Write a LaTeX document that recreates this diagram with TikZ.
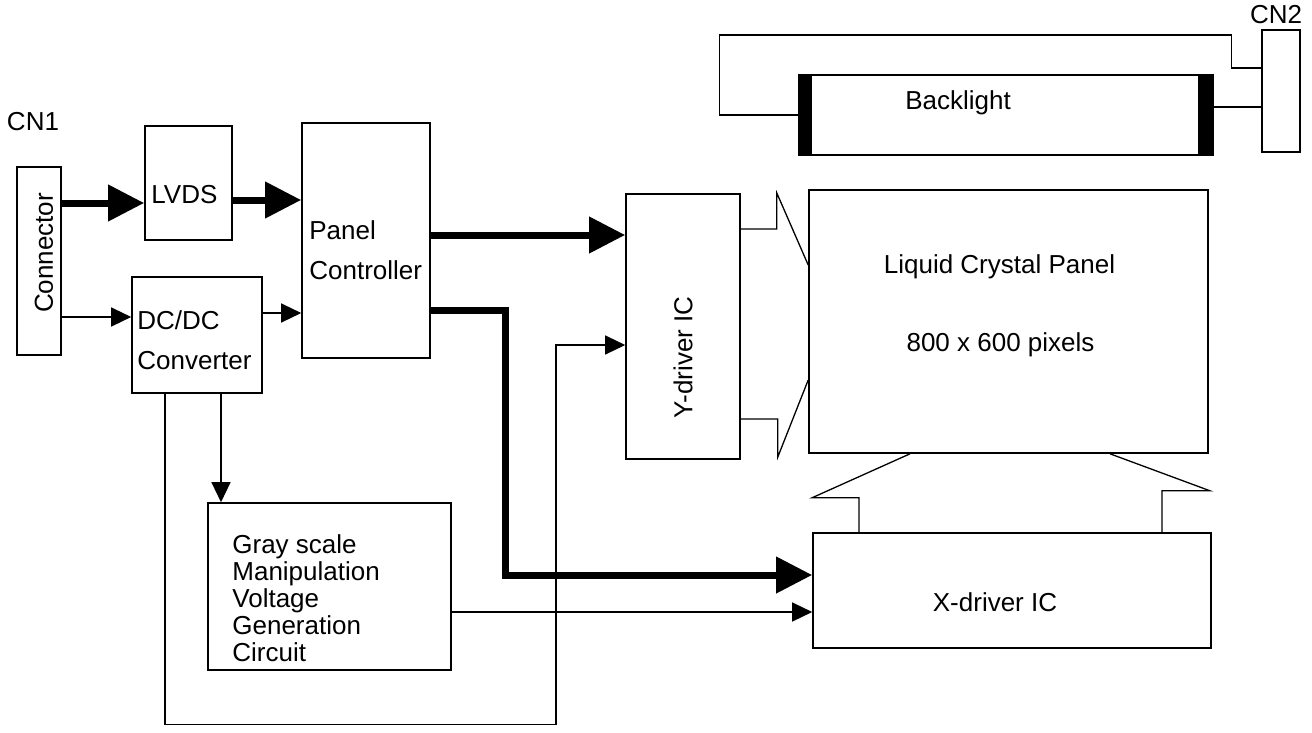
\documentclass[tikz,border=0pt]{standalone}
\usepackage{fontspec}
\setmainfont{Liberation Sans}
\usepackage{graphicx}
\usetikzlibrary{arrows.meta}

\tikzset{
  blk/.style={draw, line width=1.6pt, inner sep=0pt},
  txt/.style={inner sep=0pt, align=left, font=\fontsize{26}{40}\selectfont},
  thn/.style={line width=1.3pt, -{Triangle[length=20pt,width=19pt]}},
  thk/.style={line width=7pt, -{Triangle[length=36pt,width=35pt]}},
  wire/.style={line width=1.3pt},
}

\begin{document}
\begin{tikzpicture}[x=1pt, y=-1pt]
	\useasboundingbox (0,0) rectangle (1312,733);
	% blocks
	\node[blk, minimum width=44pt, minimum height=188pt] (cnone) at (39,261) {};
	\node[blk, minimum width=87pt, minimum height=114pt] (lvds) at (188.5,183) {};
	\node[blk, minimum width=128pt, minimum height=235pt] (ctrl) at (366,240.5) {};
	\node[blk, minimum width=130pt, minimum height=116pt] (dcdc) at (197,335) {};
	\node[blk, minimum width=243pt, minimum height=167pt] (gray) at (329.5,586.5) {};
	\node[blk, minimum width=114pt, minimum height=265pt] (ydrv) at (683,326.5) {};
	\node[blk, minimum width=399pt, minimum height=263pt] (lcd) at (1008.5,321.5) {};
	\node[blk, minimum width=398pt, minimum height=115pt] (xdrv) at (1012,590.5) {};
	\node[blk, minimum width=414pt, minimum height=80pt] (lamp) at (1006,115) {};
	\node[blk, minimum width=38pt, minimum height=122pt] (cntwo) at (1281,91) {};
	\fill (lamp.north west) rectangle ++(14,80);
	\fill (lamp.north east) rectangle ++(-16,80);
	% texts
	\node[txt] (cnonelbl) at ([shift={(-6,-45)}]cnone.north) {CN1};
	\node[txt] (cntwolbl) at ([shift={(-5,-15)}]cntwo.north) {CN2};
	\node[txt, rotate=90] (cnonetxt) at ([shift={(5,-8)}]cnone.center) {Connector};
	\node[txt, anchor=west] (lvdstxt) at ([shift={(7,12)}]lvds.west) {LVDS};
	\node[txt, anchor=west] (ctrltxt) at ([shift={(8,9.5)}]ctrl.west) {Panel\\Controller};
	\node[txt, anchor=west] (dcdctxt) at ([shift={(6,5)}]dcdc.west) {DC/DC\\Converter};
	\node[txt, anchor=west, font=\fontsize{26}{27}\selectfont] (graytxt) at ([shift={(25,12)}]gray.west)
		{Gray scale\\Manipulation\\Voltage\\Generation\\Circuit};
	\node[txt, rotate=90] (ydrvtxt) at ([shift={(0,31)}]ydrv.center) {Y-driver IC};
	\node[txt] (lcdtxt) at ([shift={(-9,-54.5)}]lcd.center) {Liquid Crystal Panel};
	\node[txt] (pixtxt) at ([shift={(-8,23.5)}]lcd.center) {800 x 600 pixels};
	\node[txt] (xdrvtxt) at ([shift={(-17,11.5)}]xdrv.center) {X-driver IC};
	\node[txt] (lamptxt) at ([shift={(-48,-12)}]lamp.center) {Backlight};
	% data paths
	\coordinate (lvdsin) at ([shift={(0,20)}]lvds.west);
	\draw[thk] (cnone.east |- lvdsin) -- (lvdsin);
	\coordinate (lvdsout) at ([shift={(0,17)}]lvds.east);
	\draw[thk] (lvdsout) -- (ctrl.west |- lvdsout);
	\coordinate (ctrlhi) at ([shift={(0,-5.5)}]ctrl.east);
	\draw[thk] (ctrlhi) -- (ydrv.west |- ctrlhi);
	\coordinate (ctrllo) at ([shift={(0,69.5)}]ctrl.east);
	\coordinate (xdrvhi) at ([shift={(0,-15.5)}]xdrv.west);
	\draw[thk] (ctrllo) -- ++(75,0) |- (xdrvhi);
	% power paths
	\coordinate (dcdcin) at ([shift={(0,-18)}]dcdc.west);
	\draw[thn] (cnone.east |- dcdcin) -- (dcdcin);
	\coordinate (dcdcout) at ([shift={(0,-22)}]dcdc.east);
	\draw[thn] (dcdcout) -- (ctrl.west |- dcdcout);
	\coordinate (grayin) at ([shift={(24,0)}]dcdc.south);
	\draw[thn] (grayin) -- (grayin |- gray.north);
	\coordinate (yin) at ([shift={(0,18.5)}]ydrv.west);
	\draw[thn] ([shift={(-32,0)}]dcdc.south) |- ++(391,331) |- (yin);
	\coordinate (grayout) at ([shift={(0,25.5)}]gray.east);
	\draw[thn] (grayout) -- (xdrv.west |- grayout);
	% buses to the panel
	\draw[wire] ([shift={(0,-97.5)}]ydrv.east) -- ++(36,0) -- ++(0,-36) -- ([shift={(0,-56.5)}]lcd.west);
	\draw[wire] ([shift={(0,92.5)}]ydrv.east) -- ++(37,0) -- ++(0,38) -- ([shift={(0,58.5)}]lcd.west);
	\draw[wire] ([shift={(-98.5,0)}]lcd.south) -- ++(-98,44) -- ++(47,0) -- ([shift={(-153,0)}]xdrv.north);
	\draw[wire] ([shift={(101.5,0)}]lcd.south) -- ++(100,37) -- ++(-48,0) -- ([shift={(150,0)}]xdrv.north);
	% lamp wires
	\draw[wire] ([shift={(0,-23)}]cntwo.west) -- ++(-30,0) -- ++(0,-33) -- ++(-512,0) |- (lamp.west);
	\coordinate (lampout) at ([shift={(0,-8)}]lamp.east);
	\draw[wire] (lampout) -- (cntwo.west |- lampout);
\end{tikzpicture}
\end{document}
